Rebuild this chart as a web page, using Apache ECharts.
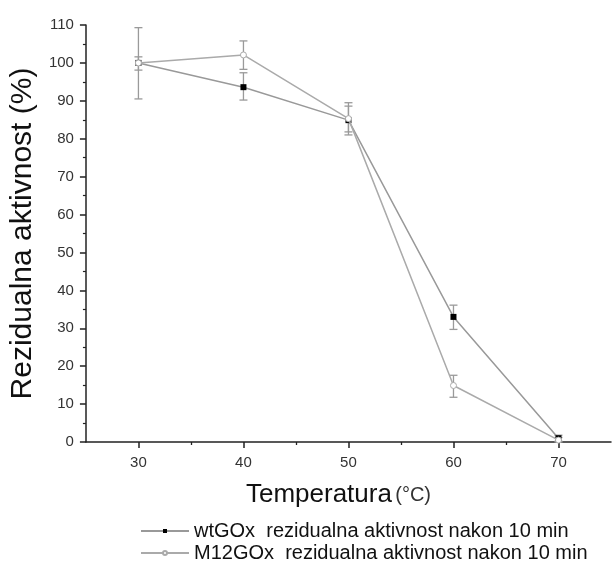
<!DOCTYPE html>
<html><head><meta charset="utf-8">
<script src="https://cdn.jsdelivr.net/npm/echarts@6/dist/echarts.min.js"></script>
<style>html,body{margin:0;padding:0;background:#fff}#c{width:612px;height:564px}</style>
</head><body><div id="c"></div>
<script>
const temps = [30, 40, 50, 60, 70];
const wtValues = [100, 93.6, 84.9, 33.0, 1.0];
const wtLow = [90.5, 90.2, 81.0, 29.7, 0.2];
const wtHigh = [109.3, 97.4, 89.5, 36.1, 1.8];
const m12Values = [100, 102.1, 85.3, 14.9, 0.5];
const m12Low = [98.1, 98.3, 81.8, 11.8, 0];
const m12High = [101.6, 105.8, 88.6, 17.6, 1.2];
const xTickLabels = [30, 40, 50, 60, 70];
const xMinorTicks = [35, 45, 55, 65];
const wtName = 'wtGOx  rezidualna aktivnost nakon 10 min';
const m12Name = 'M12GOx  rezidualna aktivnost nakon 10 min';

const chart = echarts.init(document.getElementById('c'));
const errColor = '#9a9a9a';
function errSeries(low, high) {
  return {
    type: 'custom', silent: true, z: 1,
    data: temps.map((t, i) => [t, low[i], high[i]]),
    renderItem: function (params, api) {
      const x = api.value(0);
      const lo = api.coord([x, api.value(1)]);
      const hi = api.coord([x, api.value(2)]);
      const w = 4;
      const st = { stroke: errColor, lineWidth: 1.3 };
      return { type: 'group', children: [
        { type: 'line', shape: { x1: lo[0], y1: lo[1], x2: hi[0], y2: hi[1] }, style: st },
        { type: 'line', shape: { x1: lo[0] - w, y1: lo[1], x2: lo[0] + w, y2: lo[1] }, style: st },
        { type: 'line', shape: { x1: hi[0] - w, y1: hi[1], x2: hi[0] + w, y2: hi[1] }, style: st }
      ]};
    }
  };
}
const ff = 'Liberation Sans, Arial, sans-serif';
chart.setOption({
  animation: false,
  textStyle: { fontFamily: ff },
  grid: { left: 85, right: 1, top: 25, bottom: 122 },
  legend: [
    { data: [wtName], left: 138, top: 519, itemWidth: 48, itemHeight: 5, itemGap: 4, padding: [2, 2, 2, 2],
      textStyle: { fontSize: 20, color: '#111', fontFamily: ff } },
    { data: [m12Name], left: 138, top: 541, itemWidth: 48, itemHeight: 5, itemGap: 4, padding: [2, 2, 2, 2],
      textStyle: { fontSize: 20, color: '#111', fontFamily: ff } }
  ],
  xAxis: [{
    type: 'value', min: 25, max: 75,
    name: '{a|Temperatura} {b|(°C)}', nameLocation: 'middle', nameGap: 40,
    nameTextStyle: { color: '#111', fontFamily: ff, padding: [0, 20, 0, 0],
      rich: { a: { fontSize: 26, color: '#111', fontFamily: ff }, b: { fontSize: 20, color: '#333', fontFamily: ff } } },
    axisLine: { onZero: false, lineStyle: { color: '#222', width: 1.5 } },
    axisTick: { show: true, customValues: xTickLabels, length: 6, lineStyle: { color: '#222', width: 1.5 } },
    axisLabel: { customValues: xTickLabels, fontSize: 15, color: '#333', margin: 13 },
    splitLine: { show: false }
  }, {
    type: 'value', min: 25, max: 75, position: 'bottom',
    axisLine: { show: false, onZero: false },
    axisTick: { show: true, customValues: xMinorTicks, length: 3, lineStyle: { color: '#222', width: 1.3 } },
    axisLabel: { show: false },
    splitLine: { show: false }
  }],
  yAxis: {
    type: 'value', min: 0, max: 110, interval: 10,
    name: 'Rezidualna aktivnost (%)', nameLocation: 'middle', nameGap: 42,
    nameTextStyle: { fontSize: 30, color: '#111', fontFamily: ff },
    axisLine: { show: true, lineStyle: { color: '#222', width: 1.5 } },
    axisTick: { show: true, length: 6, lineStyle: { color: '#222', width: 1.5 } },
    minorTick: { show: true, splitNumber: 2, length: 3, lineStyle: { color: '#222', width: 1.2 } },
    axisLabel: { fontSize: 15, color: '#333', margin: 12 },
    splitLine: { show: false }
  },
  series: [
    errSeries(wtLow, wtHigh),
    errSeries(m12Low, m12High),
    {
      name: wtName, type: 'line', z: 3,
      data: temps.map((t, i) => [t, wtValues[i]]),
      symbol: 'rect', symbolSize: 6,
      lineStyle: { color: '#999', width: 1.5 },
      itemStyle: { color: '#000', borderColor: '#000', borderWidth: 0 }
    },
    {
      name: m12Name, type: 'line', z: 4,
      data: temps.map((t, i) => [t, m12Values[i]]),
      symbol: 'circle', symbolSize: 6,
      lineStyle: { color: '#aaa', width: 1.5 },
      itemStyle: { color: '#fff', borderColor: '#aaa', borderWidth: 1 }
    }
  ]
});
</script></body></html>
